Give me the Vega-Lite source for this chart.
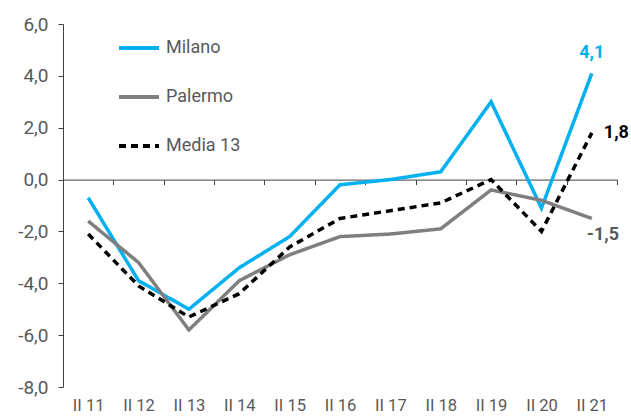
{
  "$schema": "https://vega.github.io/schema/vega-lite/v6.json",
  "autosize": "none",
  "width": 554,
  "height": 363,
  "padding": {"left": 63, "top": 24, "right": 14, "bottom": 32},
  "background": "white",
  "config": {
    "view": {"stroke": null},
    "font": "Roboto",
    "axis": {"labelFont": "Roboto", "labelColor": "#595959", "grid": false, "domainColor": "#404040", "tickColor": "#404040", "title": null}
  },
  "data": {
    "values": [
      {"period": "II 11", "series": "Milano", "value": -0.7},
      {"period": "II 12", "series": "Milano", "value": -3.9},
      {"period": "II 13", "series": "Milano", "value": -5.0},
      {"period": "II 14", "series": "Milano", "value": -3.4},
      {"period": "II 15", "series": "Milano", "value": -2.2},
      {"period": "II 16", "series": "Milano", "value": -0.2},
      {"period": "II 17", "series": "Milano", "value": 0.0},
      {"period": "II 18", "series": "Milano", "value": 0.3},
      {"period": "II 19", "series": "Milano", "value": 3.0},
      {"period": "II 20", "series": "Milano", "value": -1.1},
      {"period": "II 21", "series": "Milano", "value": 4.1},
      {"period": "II 11", "series": "Palermo", "value": -1.6},
      {"period": "II 12", "series": "Palermo", "value": -3.2},
      {"period": "II 13", "series": "Palermo", "value": -5.8},
      {"period": "II 14", "series": "Palermo", "value": -3.9},
      {"period": "II 15", "series": "Palermo", "value": -2.9},
      {"period": "II 16", "series": "Palermo", "value": -2.2},
      {"period": "II 17", "series": "Palermo", "value": -2.1},
      {"period": "II 18", "series": "Palermo", "value": -1.9},
      {"period": "II 19", "series": "Palermo", "value": -0.4},
      {"period": "II 20", "series": "Palermo", "value": -0.8},
      {"period": "II 21", "series": "Palermo", "value": -1.5},
      {"period": "II 11", "series": "Media 13", "value": -2.1},
      {"period": "II 12", "series": "Media 13", "value": -4.1},
      {"period": "II 13", "series": "Media 13", "value": -5.3},
      {"period": "II 14", "series": "Media 13", "value": -4.4},
      {"period": "II 15", "series": "Media 13", "value": -2.6},
      {"period": "II 16", "series": "Media 13", "value": -1.5},
      {"period": "II 17", "series": "Media 13", "value": -1.2},
      {"period": "II 18", "series": "Media 13", "value": -0.9},
      {"period": "II 19", "series": "Media 13", "value": 0.0},
      {"period": "II 20", "series": "Media 13", "value": -2.0},
      {"period": "II 21", "series": "Media 13", "value": 1.8}
    ]
  },
  "encoding": {
    "x": {
      "field": "period", "type": "ordinal",
      "scale": {"type": "band", "paddingInner": 0, "paddingOuter": 0},
      "axis": {"orient": "bottom", "offset": -207.4, "labelAngle": 0, "tickBand": "extent", "tickSize": 5, "labelPadding": 213, "labelFontSize": 16.5, "domainWidth": 1}
    },
    "y": {
      "field": "value", "type": "quantitative",
      "scale": {"domain": [-8, 6], "nice": false, "zero": false},
      "axis": {"values": [-8, -6, -4, -2, 0, 2, 4, 6], "tickSize": 5, "labelPadding": 10, "labelFontSize": 19, "labelExpr": "replace(replace(format(datum.value, '.1f'), '.', ','), '\u2212', '-')"}
    }
  },
  "layer": [
    {
      "mark": {"type": "line", "strokeWidth": 3.5, "strokeJoin": "miter"},
      "encoding": {
        "color": {
          "field": "series", "type": "nominal",
          "scale": {"domain": ["Milano", "Palermo", "Media 13"], "range": ["#00B0F0", "#7F7F7F", "#000000"]},
          "legend": {"orient": "none", "legendX": 54, "legendY": 2, "title": null, "symbolType": "stroke", "symbolSize": 1600, "symbolStrokeWidth": 4, "labelFontSize": 18, "labelColor": "#595959", "labelFont": "Roboto", "rowPadding": 18, "labelOffset": 5, "padding": 0}
        },
        "strokeDash": {
          "field": "series", "type": "nominal",
          "scale": {"domain": ["Milano", "Palermo", "Media 13"], "range": [[1, 0], [1, 0], [7, 5]]},
          "legend": {"orient": "none", "legendX": 54, "legendY": 2, "title": null, "symbolType": "stroke", "symbolSize": 1600, "symbolStrokeWidth": 4, "labelFontSize": 18, "labelColor": "#595959", "labelFont": "Roboto", "rowPadding": 18, "labelOffset": 5, "padding": 0}
        }
      }
    },
    {
      "transform": [
        {"filter": "datum.period == 'II 21' && datum.series == 'Milano'"},
        {"calculate": "replace(format(datum.value, '.1f'), '.', ',')", "as": "lbl"}
      ],
      "mark": {"type": "text", "fontWeight": "bold", "fontSize": 18, "color": "#00B0F0", "baseline": "bottom", "dy": -11},
      "encoding": {"text": {"field": "lbl"}}
    },
    {
      "transform": [
        {"filter": "datum.period == 'II 21' && datum.series == 'Media 13'"},
        {"calculate": "replace(format(datum.value, '.1f'), '.', ',')", "as": "lbl"}
      ],
      "mark": {"type": "text", "fontWeight": "bold", "fontSize": 18, "color": "#000000", "align": "left", "baseline": "middle", "dx": 12, "dy": 0},
      "encoding": {"text": {"field": "lbl"}}
    },
    {
      "transform": [
        {"filter": "datum.period == 'II 21' && datum.series == 'Palermo'"},
        {"calculate": "replace(replace(format(datum.value, '.1f'), '.', ','), '\u2212', '-')", "as": "lbl"}
      ],
      "mark": {"type": "text", "fontWeight": "bold", "fontSize": 18, "color": "#595959", "align": "left", "baseline": "middle", "dx": -5, "dy": 17},
      "encoding": {"text": {"field": "lbl"}}
    }
  ]
}
